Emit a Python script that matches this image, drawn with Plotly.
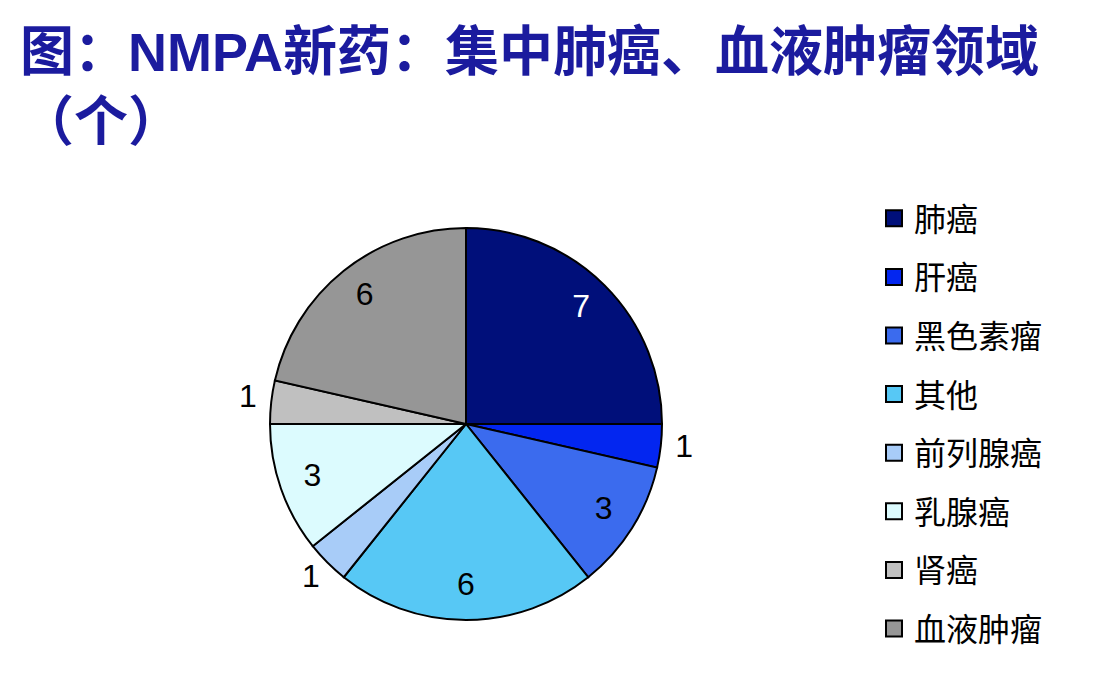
import plotly.graph_objects as go

labels = ["肺癌", "肝癌", "黑色素瘤", "其他", "前列腺癌", "乳腺癌", "肾癌", "血液肿瘤"]
values = [7, 1, 3, 6, 1, 3, 1, 6]
colors = ["#000F7A", "#0326F0", "#3B6BEE", "#57C8F5", "#A8CCF8", "#DCFBFE", "#C0C0C0", "#969696"]
inside = [True, False, True, True, False, True, False, True]
text_col = ["white", "black", "black", "black", "black", "black", "black", "black"]

total = sum(values)
r_max = 1.25  # room outside the pie for the small-slice labels
cx, cy, rad = 466, 694 - 424, 196 * r_max
pie_dom = dict(x=[(cx - rad) / 1104, (cx + rad) / 1104], y=[(cy - rad) / 694, (cy + rad) / 694])

# slice angles, clockwise from 12 o'clock
widths = [v / total * 360 for v in values]
mids, acc = [], 0
for w in widths:
    mids.append(acc + w / 2)
    acc += w

fig = go.Figure()

fig.add_trace(go.Barpolar(
    r=[1] * len(values),
    theta=mids,
    width=widths,
    marker=dict(color=colors, line=dict(color="black", width=2)),
    customdata=labels,
    text=values,
    hovertemplate="%{customdata}: %{text}<extra></extra>",
    showlegend=False,
))

# values: inside near the rim, small slices just outside
fig.add_trace(go.Scatterpolar(
    r=[0.83 if i else 1.12 for i in inside],
    theta=mids,
    text=[str(v) for v in values],
    mode="text",
    textfont=dict(family="Liberation Sans, Arial", size=32, color=text_col),
    showlegend=False,
    hoverinfo="skip",
    cliponaxis=False,
))

# legend entries
for i, (lab, col) in enumerate(zip(labels, colors)):
    fig.add_trace(go.Scatter(
        x=[None], y=[None], mode="markers", name=lab, legendgroup=str(i),
        marker=dict(symbol="square", size=16, color=col, line=dict(color="black", width=2)),
    ))

fig.add_annotation(
    text="<b>图：NMPA新药：集中肺癌、血液肿瘤领域</b><br><b>（个）</b>",
    xref="paper", yref="paper", x=18 / 1104, y=1 - 20 / 694,
    xanchor="left", yanchor="top", align="left", showarrow=False,
    font=dict(family="Liberation Sans, Noto Sans CJK SC", size=54, color="#1B1B9E"),
)

fig.update_layout(
    width=1104,
    height=694,
    margin=dict(l=0, r=0, t=0, b=0),
    paper_bgcolor="white",
    plot_bgcolor="white",
    xaxis=dict(visible=False),
    yaxis=dict(visible=False),
    polar=dict(
        domain=pie_dom,
        bgcolor="rgba(0,0,0,0)",
        bargap=0,
        radialaxis=dict(visible=False, range=[0, r_max]),
        angularaxis=dict(visible=False, rotation=90, direction="clockwise"),
    ),
    legend=dict(
        x=874 / 1104, y=1 - 191 / 694, xanchor="left", yanchor="top",
        font=dict(family="Noto Sans CJK SC", size=32, color="black"),
        tracegroupgap=14, itemsizing="trace",
    ),
)

fig.write_html("out.html", config={"displayModeBar": False},
               post_script="document.body.style.margin='0';")
